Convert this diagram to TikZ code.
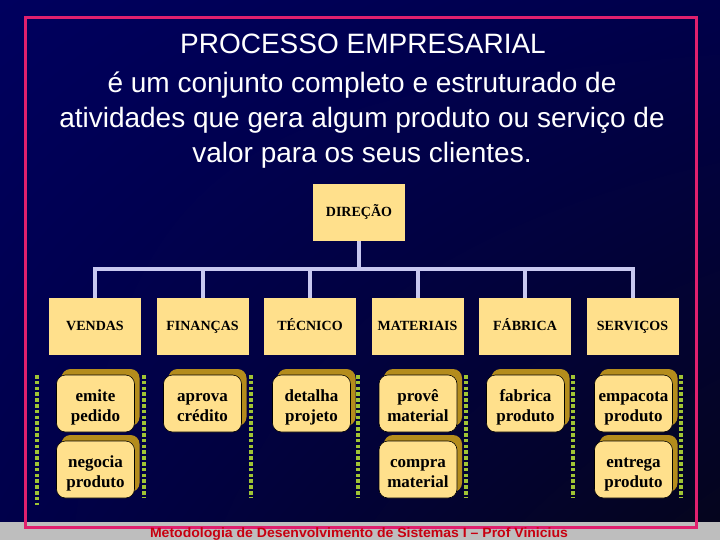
\documentclass[tikz,border=0pt]{standalone}
\usepackage{fontspec}
\setmainfont{Liberation Serif}
\newfontfamily\arialf{Liberation Sans}
\usetikzlibrary{shadows,shadings}
\definecolor{bgA}{HTML}{00005E}
\definecolor{bgB}{HTML}{00004A}
\definecolor{bgC}{HTML}{05051C}
\definecolor{stripgray}{HTML}{BEBEBE}
\definecolor{framecol}{HTML}{E0206E}
\definecolor{boxfill}{HTML}{FFE08C}
\definecolor{shadowc}{HTML}{B48C1C}
\definecolor{connc}{HTML}{C8C8F0}
\definecolor{dotc}{HTML}{A0C434}
\definecolor{footc}{HTML}{C80010}
\newcommand\tasktxt[2]{\rule{0pt}{19.7pt}#1\\#2\rule[-3.7pt]{0pt}{3.7pt}}
\begin{document}
\begin{tikzpicture}[x=1pt,y=-1pt,
  titletext/.style={text=white, font=\arialf\fontsize{28}{32}\selectfont, inner sep=0pt, anchor=base},
  footer/.style={text=footc, font=\arialf\bfseries\fontsize{13.5}{16}\selectfont, inner sep=0pt, anchor=base},
  rectbox/.style={fill=boxfill, minimum width=92pt, minimum height=57pt, inner sep=0pt, text height=9.5pt, text depth=1.5pt, font=\bfseries\fontsize{14}{16}\selectfont, text=black},
  taskbox/.style={fill=boxfill, draw=black, line width=0.6pt, rounded corners=9pt, minimum width=78pt, minimum height=57pt, inner sep=0pt, align=center, font=\bfseries\fontsize{17}{20}\selectfont, text=black,
    drop shadow={shadow xshift=5pt, shadow yshift=6pt, fill=shadowc, opacity=1, draw=none}},
  conn/.style={draw=connc, line width=4pt},
  dotline/.style={draw=dotc, line width=4pt, dash pattern=on 3.6pt off 2.2pt}
]
\useasboundingbox (0,0) rectangle (720,540);
\shade[upper left=bgA, upper right=bgB, lower left=bgB, lower right=bgC] (0,0) rectangle (720,540);
\fill[stripgray] (0,522) rectangle (720,540);
\draw[framecol, line width=3pt] (25,18) rectangle (696,527);

% title
\node[titletext] (t1) at (363,54) {PROCESSO EMPRESARIAL};
\node[titletext] (t2) at (362,93) {é um conjunto completo e estruturado de};
\node[titletext] (t3) at (362,128) {atividades que gera algum produto ou serviço de};
\node[titletext] (t4) at (362,163) {valor para os seus clientes.};

% footer
\node[footer] (ft) at (359,537.3) {\scalebox{1.04}[1]{Metodologia de Desenvolvimento de Sistemas I – Prof Vinicius}};

% org chart
\node[rectbox] (dir) at (359,212.5) {DIREÇÃO};
\node[rectbox] (vendas) at (95,326.5) {VENDAS};
\node[rectbox] (financas) at (202.5,326.5) {FINANÇAS};
\node[rectbox] (tecnico) at (310,326.5) {TÉCNICO};
\node[rectbox] (materiais) at (417.5,326.5) {MATERIAIS};
\node[rectbox] (fabrica) at (525,326.5) {FÁBRICA};
\node[rectbox] (servicos) at (632.5,326.5) {SERVIÇOS};

\coordinate (bus) at (359,269);
\draw[conn] (dir.south) -- (dir.south |- bus);
\draw[conn, line cap=rect] (vendas.north |- bus) -- (servicos.north |- bus);
\foreach \n in {vendas,financas,tecnico,materiais,fabrica,servicos}
  \draw[conn] (\n.north |- bus) -- (\n.north);

% swimlane dotted lines
\draw[dotline] (37,375) -- (37,505);
\foreach \x in {144,251,358,466,573,681}
  \draw[dotline] (\x,375) -- (\x,497);

% activities
\node[taskbox] (emite) at (95.5,403.5) {\tasktxt{emite}{pedido}};
\node[taskbox] (negocia) at (95.5,469.5) {\tasktxt{negocia}{produto}};
\node[taskbox] (aprova) at (202.5,403.5) {\tasktxt{aprova}{crédito}};
\node[taskbox] (detalha) at (311.5,403.5) {\tasktxt{detalha}{projeto}};
\node[taskbox] (prove) at (418,403.5) {\tasktxt{provê}{material}};
\node[taskbox] (compra) at (418,469.5) {\tasktxt{compra}{material}};
\node[taskbox] (fabr) at (525.5,403.5) {\tasktxt{fabrica}{produto}};
\node[taskbox] (empacota) at (633.5,403.5) {\tasktxt{empacota}{produto}};
\node[taskbox] (entrega) at (633.5,469.5) {\tasktxt{entrega}{produto}};
\end{tikzpicture}
\end{document}
